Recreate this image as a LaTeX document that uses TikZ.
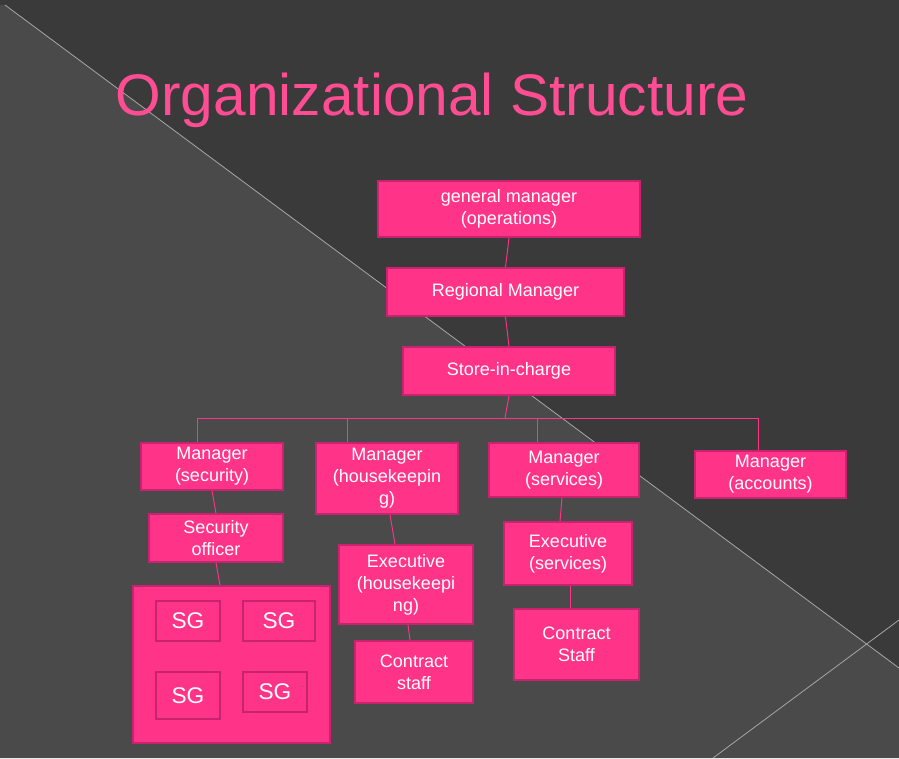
\documentclass[tikz,border=0pt]{standalone}
\usepackage{fontspec}
\setmainfont{Liberation Sans}
\begin{document}
\begin{tikzpicture}[x=0.75pt,y=-0.75pt,
  bx/.style={draw=pinkdark,line width=1.2pt,fill=pinkfill,text=white,align=center,font=\fontsize{13.5}{16.5}\selectfont,inner sep=0pt},
  ln/.style={draw=pinkfill,line width=0.7pt}]
\definecolor{pinkfill}{HTML}{FF3388}
\definecolor{pinkdark}{HTML}{C8236E}
\definecolor{bgdark}{HTML}{3A3A3A}
\definecolor{bglight}{HTML}{4A4A4A}
\definecolor{titlec}{HTML}{FF4D94}
\useasboundingbox (0,0) rectangle (899,758);
\fill[bgdark] (0,0) rectangle (899,758);
\fill[bglight] (5,5) -- (899,668) -- (899,758) -- (0,758) -- (0,5) -- cycle;
\draw[gray!70,line width=0.6pt] (5,5) -- (899,668);
\draw[gray!70,line width=0.6pt] (899,620) -- (713,758);
\node[text=titlec,font=\fontsize{44}{50}\selectfont] (title) at (432,100) {Organizational Structure};
\newcommand{\bxat}[6][]{\node[bx,minimum width={(#4-#2)*0.75pt},minimum height={(#5-#3)*0.75pt},#1] (#6) at ({(#2+#4)/2},{(#3+#5)/2})}
\bxat{378}{181}{640}{237}{gm} {general manager\\(operations)};
\bxat{387}{268}{624}{316}{rm} {Regional Manager};
\bxat{403}{347}{615}{395}{sic} {Store-in-charge};
\bxat{141}{443}{283}{490}{msec} {Manager\\(security)};
\bxat{316}{443}{458}{514}{mhk} {Manager\\(housekeepin\\g)};
\bxat{489}{443}{639}{497}{msv} {Manager\\(services)};
\bxat{695}{451}{846}{498}{macc} {Manager\\(accounts)};
\bxat{149}{514}{283}{562}{so} {Security\\officer};
\bxat{133}{586}{330}{743}{sgbox} {};
\bxat[font=\fontsize{17}{20}\selectfont]{156}{601}{220}{641}{sga} {SG};
\bxat[font=\fontsize{17}{20}\selectfont]{243}{601}{315}{641}{sgb} {SG};
\bxat[font=\fontsize{17}{20}\selectfont]{156}{672}{220}{719}{sgc} {SG};
\bxat[font=\fontsize{17}{20}\selectfont]{243}{672}{307}{712}{sgd} {SG};
\bxat{339}{545}{473}{624}{ehk} {Executive\\(housekeepi\\ng)};
\bxat{355}{641}{473}{703}{cs1} {Contract\\staff};
\bxat{504}{522}{632}{585}{esv} {Executive\\(services)};
\bxat{514}{609}{639}{680}{cs2} {Contract\\Staff};
\coordinate (bus) at (505,418);
\draw[ln] (gm.south) -- (rm.north);
\draw[ln] (rm.south) -- (sic.north);
\draw[ln] (sic.south) -- (bus);
\draw[ln] (msec.north -| 197,0) |- (bus) -| (macc.north -| 758,0);
\draw[ln] (bus) -| (mhk.north -| 347,0);
\draw[ln] (bus) -| (msv.north -| 537,0);
\draw[ln] (msec.south) -- (so.north);
\draw[ln] (so.south) -- (sgbox.north -| 220,0);
\draw[ln] (mhk.south -| 390,0) -- (ehk.north -| 395,0);
\draw[ln] (ehk.south -| 408,0) -- (cs1.north -| 410,0);
\draw[ln] (msv.south -| 562,0) -- (esv.north -| 560,0);
\draw[ln] (esv.south -| 570,0) -- (cs2.north -| 570,0);
\end{tikzpicture}
\end{document}
